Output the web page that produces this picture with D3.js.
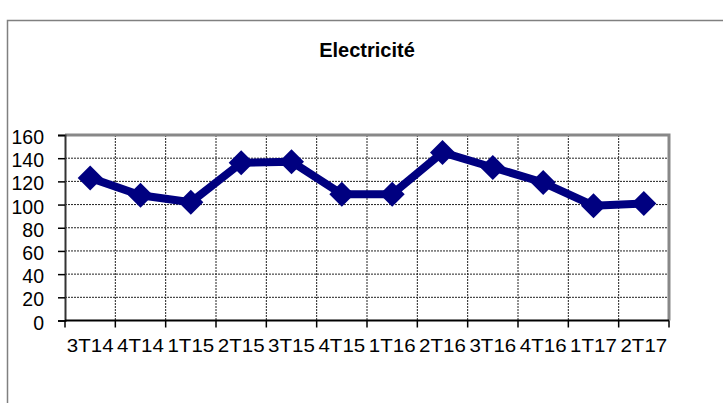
<!DOCTYPE html>
<html>
<head>
<meta charset="utf-8">
<style>
    body { margin: 0; background: #fff; }
    text { font-family: "Liberation Sans", Arial, sans-serif; fill: #000; }
    .grid line { stroke: #222; stroke-width: 1; stroke-dasharray: 2,1; }
</style>
</head>
<body>
<svg width="723" height="403"></svg>
<script src="https://cdn.jsdelivr.net/npm/d3@7"></script>
<script>
    var quarters = ["3T14", "4T14", "1T15", "2T15", "3T15", "4T15", "1T16", "2T16", "3T16", "4T16", "1T17", "2T17"]
    var electricite = [123, 108, 102, 136, 137, 109, 109, 145, 132, 119, 99, 101]
    var yTicks = [0, 20, 40, 60, 80, 100, 120, 140, 160]

    var svg = d3.select("svg")
    var plotLeft = 65, plotRight = 669, plotTop = 135, plotBottom = 320.5

    // cadre du graphique
    svg.append("path")
        .attr("d", "M7.5,403 V20.5 H723")
        .attr("fill", "none")
        .attr("stroke", "#808080")
        .attr("stroke-width", 1.5)

    svg.append("text")
        .attr("x", 367)
        .attr("y", 57)
        .attr("text-anchor", "middle")
        .style("font-size", "20px")
        .style("font-weight", "bold")
        .text("Electricité")

    var x = d3.scaleBand().domain(quarters).range([plotLeft, plotRight])
    var y = d3.scaleLinear().domain([0, 160]).range([plotBottom, plotTop])

    // grille
    var grid = svg.append("g").attr("class", "grid")
    grid.selectAll(".h").data(yTicks.slice(1, -1)).enter().append("line")
        .attr("x1", plotLeft).attr("x2", plotRight)
        .attr("y1", d => y(d)).attr("y2", d => y(d))
    grid.selectAll(".v").data(quarters.slice(1)).enter().append("line")
        .attr("x1", d => x(d)).attr("x2", d => x(d))
        .attr("y1", plotTop).attr("y2", plotBottom)

    // bord haut et droit
    svg.append("path")
        .attr("d", "M" + plotLeft + "," + plotTop + " H" + plotRight + " V" + plotBottom)
        .attr("fill", "none")
        .attr("stroke", "#888")
        .attr("stroke-width", 3)

    // axe y
    var yAxis = svg.append("g")
        .attr("transform", "translate(" + plotLeft + ",0)")
        .call(d3.axisLeft(y).tickValues(yTicks).tickSize(7).tickPadding(0).tickFormat(d3.format("d")))
    yAxis.select(".domain").attr("stroke", "#333").attr("stroke-width", 2)
    yAxis.selectAll(".tick line").attr("stroke", "#000").attr("stroke-width", 1.5)
    yAxis.selectAll(".tick text")
        .attr("x", -21)
        .attr("dy", null)
        .attr("y", 8.5)
        .style("font-size", "19.5px")
        .attr("fill", "#000")

    // axe x
    var xAxis = svg.append("g")
        .attr("transform", "translate(0," + plotBottom + ")")
        .call(d3.axisBottom(x).tickSize(0).tickPadding(0))
    xAxis.select(".domain").remove()
    xAxis.append("line")
        .attr("x1", plotLeft).attr("x2", plotRight)
        .attr("stroke", "#000").attr("stroke-width", 2)
    xAxis.selectAll(".tk").data(quarters.concat([null])).enter().append("line")
        .attr("x1", (d, i) => plotLeft + i * x.step())
        .attr("x2", (d, i) => plotLeft + i * x.step())
        .attr("y1", 0).attr("y2", 7)
        .attr("stroke", "#000").attr("stroke-width", 1.5)
    xAxis.selectAll(".tick text")
        .attr("y", null)
        .attr("dy", null)
        .attr("transform", "translate(0,31.5) scale(1.08,1)")
        .style("font-size", "19px")
        .attr("fill", "#000")

    // série
    var line = d3.line()
        .x((d, i) => x(quarters[i]) + x.bandwidth() / 2)
        .y(d => y(d))
    svg.append("path")
        .datum(electricite)
        .attr("d", line)
        .attr("fill", "none")
        .attr("stroke", "#000080")
        .attr("stroke-width", 8)
        .attr("stroke-linejoin", "round")

    svg.selectAll(".pt").data(electricite).enter().append("path")
        .attr("transform", (d, i) => "translate(" + (x(quarters[i]) + x.bandwidth() / 2) + "," + y(d) + ")")
        .attr("d", "M0,-12.5 L12.5,0 L0,12.5 L-12.5,0 Z")
        .attr("fill", "#000080")
</script>
</body>
</html>
